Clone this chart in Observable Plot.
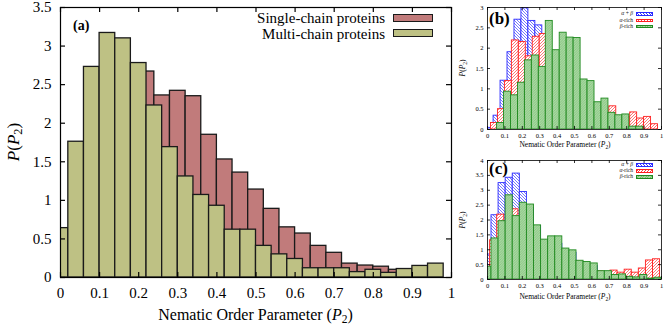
<!DOCTYPE html>
<html><head><meta charset="utf-8">
<script src="https://cdn.jsdelivr.net/npm/d3@7"></script>
<script src="https://cdn.jsdelivr.net/npm/@observablehq/plot@0.6"></script>
<style>
body{margin:0;background:#fff;}
#wrap{position:relative;width:664px;height:324px;overflow:hidden;font-family:"Liberation Serif",serif;color:#000;}
.abs{position:absolute;white-space:nowrap;line-height:1;}
.abs sub{font-size:0.72em;vertical-align:-0.25em;line-height:0;}
.sw{position:absolute;box-sizing:border-box;}
</style></head><body>
<svg width="0" height="0" style="position:absolute">
  <defs>
    <pattern id="hatchBlue" patternUnits="userSpaceOnUse" width="3" height="3">
      <rect width="3" height="3" fill="#fff"/>
      <path d="M-1,-1L4,4M-1,2L1,4M2,-1L4,1" stroke="#3c3cff" stroke-width="0.7"/>
    </pattern>
    <pattern id="hatchRed" patternUnits="userSpaceOnUse" width="3" height="3">
      <rect width="3" height="3" fill="#fff"/>
      <path d="M-1,4L4,-1M-1,1L1,-1M2,4L4,2" stroke="#ff3c3c" stroke-width="0.7"/>
    </pattern>
    <pattern id="hatchGreen" patternUnits="userSpaceOnUse" width="2.5" height="2.5">
      <rect width="2.5" height="2.5" fill="#a9d7a2"/>
      <path d="M-1,3.5L3.5,-1M-1,1L1,-1M1.5,3.5L3.5,1.5" stroke="#74bd6e" stroke-width="0.6"/>
    </pattern>
  </defs>
</svg>
<div id="wrap"></div>
<script>
// ---------- data ----------
const xTicks = [0, 0.1, 0.2, 0.3, 0.4, 0.5, 0.6, 0.7, 0.8, 0.9, 1];
const yTicksA = [0, 0.5, 1, 1.5, 2, 2.5, 3, 3.5];
const yTicksB = [0, 0.5, 1, 1.5, 2, 2.5, 3];
const yTicksC = [0, 0.5, 1, 1.5, 2, 2.5, 3, 3.5, 4];

// panel (a): bin width 0.04
const binWidthA = 0.04;
const singleChainStart = 0.0;
const singleChain = [0.40, 1.10, 1.60, 2.10, 2.45, 2.67, 2.36, 2.42, 2.35, 1.85, 1.53, 1.36, 1.14, 0.89, 0.65, 0.57, 0.41, 0.32, 0.18, 0.155, 0.14, 0.10, 0.08, 0.07];
const multiChainStart = -0.02;
const multiChain = [0.64, 1.76, 2.73, 3.17, 3.10, 2.78, 2.23, 1.69, 1.31, 1.07, 0.93, 0.62, 0.62, 0.41, 0.30, 0.24, 0.12, 0.12, 0.12, 0.07, 0.10, 0.06, 0.11, 0.15, 0.18];

// panel (b)
const binWidthB = 0.04;
const alphaBetaBStart = -0.005;
const alphaBetaB = [0.04, 0.34, 1.2, 1.9, 2.7, 2.98, 2.67, 2.56, 2.2, 1.9, 1.6, 1.4, 1.2, 0.9, 0.8, 0.6, 0.5, 0.4, 0.3, 0.2, 0.2, 0.15, 0.1, 0.1];
const alphaRichBStart = 0.02;
const alphaRichB = [0.16, 0.5, 1.19, 2.19, 2.15, 1.8, 2.28, 2.35, 1.8, 1.7, 1.6, 1.5, 1.1, 1.0, 0.65, 0.6, 0.4, 0.57, 0.3, 0.3, 0.42, 0.27, 0.31, 0.13];
const betaRichBStart = 0.055;
const betaRichB = [0.16, 0.93, 0.84, 1.15, 1.70, 1.82, 1.54, 2.67, 1.95, 2.38, 2.26, 2.25, 1.23, 1.19, 0.67, 0.76, 0.41, 0.35, 0.37, 0.07, 0.07];

// panel (c)
const binWidthC = 0.0407;
const alphaBetaCStart = -0.0177;
const alphaBetaC = [0.84, 2.16, 3.24, 3.42, 3.56, 2.94, 2.4, 1.8, 1.3, 1.3, 1.2, 0.95, 0.9, 0.55, 0.5, 0.45, 0.25, 0.25, 0.14, 0.15, 0.08, 0.06];
const alphaRichCStart = 0.015;
const alphaRichC = [1.32, 2.18, 1.9, 2.36, 2.0, 2.1, 1.7, 1.3, 1.2, 1.3, 1.0, 0.9, 0.6, 0.55, 0.5, 0.27, 0.25, 0.30, 0.23, 0.33, 0.23, 0.37, 0.64, 0.68];
const betaRichCStart = -0.0177;
const betaRichC = [0.43, 1.38, 1.96, 2.83, 2.13, 2.58, 2.52, 1.82, 1.34, 1.45, 1.45, 1.04, 0.98, 0.63, 0.59, 0.54, 0.28, 0.28, 0.15, 0.17, 0.09, 0.07, 0.15, 0.03, 0.06];

// ---------- helpers ----------
const FONT = '"Liberation Serif", serif';
const bins = (values, start, w) => values.map((v, i) => ({x1: start + i * w, x2: start + (i + 1) * w, v}));
const fmt = d => String(d);

function panel({width, height, ml, mr, mt, mb, yMax, yTicks, series, tick, fs, padX, padY, frameW}) {
  const iw = width - ml - mr, ih = height - mt - mb;
  return Plot.plot({
    width, height, marginLeft: ml, marginRight: mr, marginTop: mt, marginBottom: mb,
    style: {fontFamily: FONT, fontSize: fs + "px", background: "transparent", overflow: "visible"},
    x: {domain: [0, 1]},
    y: {domain: [0, yMax]},
    marks: [
      ...series.map(s => Plot.rect(s.data, {x1: "x1", x2: "x2", y1: 0, y2: "v", inset: 0,
        fill: s.fill, stroke: s.stroke, strokeWidth: s.sw, clip: true})),
      Plot.ruleX(xTicks, {x: d => d, insetTop: ih - tick, stroke: "#000", strokeWidth: frameW}),
      Plot.ruleX(xTicks, {x: d => d, insetBottom: ih - tick, stroke: "#000", strokeWidth: frameW}),
      Plot.ruleY(yTicks, {y: d => d, insetRight: iw - tick, stroke: "#000", strokeWidth: frameW}),
      Plot.ruleY(yTicks, {y: d => d, insetLeft: iw - tick, stroke: "#000", strokeWidth: frameW}),
      Plot.frame({stroke: "#000", strokeWidth: frameW}),
      Plot.axisX({ticks: xTicks, tickSize: 0, tickPadding: padX, tickFormat: fmt, label: null}),
      Plot.axisY({ticks: yTicks, tickSize: 0, tickPadding: padY, tickFormat: fmt, label: null})
    ]
  });
}

const wrap = document.getElementById("wrap");
function put(node, left, top) {
  const d = document.createElement("div");
  d.style.cssText = `position:absolute;left:${left}px;top:${top}px;`;
  d.appendChild(node);
  wrap.appendChild(d);
}
function text(html, css) {
  const d = document.createElement("div");
  d.className = "abs";
  d.innerHTML = html;
  d.style.cssText += css;
  wrap.appendChild(d);
}
function swatch(left, top, w, h, css) {
  const d = document.createElement("div");
  d.className = "sw";
  d.style.cssText += `left:${left}px;top:${top}px;width:${w}px;height:${h}px;` + css;
  wrap.appendChild(d);
}

// ---------- panel (a) ----------
put(panel({
  width: 460, height: 324, ml: 60, mr: 9, mt: 7, mb: 47, yMax: 3.5, yTicks: yTicksA,
  tick: 5, fs: 15, padX: 10, padY: 9, frameW: 1.2,
  series: [
    {data: bins(singleChain, singleChainStart, binWidthA), fill: "#c17b7b", stroke: "#1a1a1a", sw: 1.3},
    {data: bins(multiChain, multiChainStart, binWidthA), fill: "#bec184", stroke: "#1a1a1a", sw: 1.3}
  ]
}), 0, 0);

// ---------- panel (b) ----------
put(panel({
  width: 209, height: 160, ml: 32, mr: 3, mt: 7, mb: 31, yMax: 3, yTicks: yTicksB,
  tick: 3, fs: 6.5, padX: 4, padY: 4, frameW: 0.8,
  series: [
    {data: bins(alphaBetaB, alphaBetaBStart, binWidthB), fill: "url(#hatchBlue)", stroke: "#2a2aff", sw: 0.9},
    {data: bins(alphaRichB, alphaRichBStart, binWidthB), fill: "url(#hatchRed)", stroke: "#ff2020", sw: 0.9},
    {data: bins(betaRichB, betaRichBStart, binWidthB), fill: "url(#hatchGreen)", stroke: "#1f8a1f", sw: 0.9}
  ]
}), 455, 0);

// ---------- panel (c) ----------
put(panel({
  width: 209, height: 174, ml: 32, mr: 3, mt: 10, mb: 45, yMax: 4, yTicks: yTicksC,
  tick: 3, fs: 6.5, padX: 4, padY: 4, frameW: 0.8,
  series: [
    {data: bins(alphaBetaC, alphaBetaCStart, binWidthC), fill: "url(#hatchBlue)", stroke: "#2a2aff", sw: 0.9},
    {data: bins(alphaRichC, alphaRichCStart, binWidthC), fill: "url(#hatchRed)", stroke: "#ff2020", sw: 0.9},
    {data: bins(betaRichC, betaRichCStart, binWidthC), fill: "url(#hatchGreen)", stroke: "#1f8a1f", sw: 0.9}
  ]
}), 455, 150);

// ---------- texts: panel (a) ----------
text('Nematic Order Parameter (<i>P</i><sub>2</sub>)', 'left:255.5px;top:315px;font-size:16px;transform:translate(-50%,-50%);');
text('<i>P</i>(<i>P</i><sub>2</sub>)', 'left:13px;top:142px;font-size:17px;transform:translate(-50%,-50%) rotate(-90deg);');
text('<b>(a)</b>', 'left:73px;top:19px;font-size:14px;');
text('Single-chain proteins', 'right:279px;top:17.5px;font-size:15px;line-height:0.85;transform:translateY(-50%);');
text('Multi-chain proteins', 'right:279px;top:33.5px;font-size:15px;line-height:0.85;transform:translateY(-50%);');
swatch(393, 14, 40, 8, 'background:#c17b7b;border:1.3px solid #1a1a1a;');
swatch(393, 29, 40, 8, 'background:#bec184;border:1.3px solid #1a1a1a;');

// ---------- texts: panels (b),(c) ----------
const blueBg = 'background:repeating-linear-gradient(45deg,#fff 0 1.3px,#3c3cff 1.3px 2px);border:0.9px solid #2a2aff;';
const redBg = 'background:repeating-linear-gradient(-45deg,#fff 0 1.3px,#ff3c3c 1.3px 2px);border:0.9px solid #ff2020;';
const greenBg = 'background:repeating-linear-gradient(-45deg,#a9d7a2 0 1.2px,#74bd6e 1.2px 1.8px);border:0.9px solid #1f8a1f;';

function smallPanel(label, labelTop, xlabelTop, ylabelTop, legendTops) {
  text(`<b>${label}</b>`, `left:489px;top:${labelTop}px;font-size:17px;`);
  text('Nematic Order Parameter (<i>P</i><sub>2</sub>)', `left:565px;top:${xlabelTop}px;font-size:7.5px;transform:translate(-50%,-50%);`);
  text('<i>P</i>(<i>P</i><sub>2</sub>)', `left:463px;top:${ylabelTop}px;font-size:7.5px;transform:translate(-50%,-50%) rotate(-90deg);`);
  const names = ['<i>α</i> + <i>β</i>', '<i>α</i>-rich', '<i>β</i>-rich'];
  const bgs = [blueBg, redBg, greenBg];
  names.forEach((n, i) => {
    text(n, `right:31px;top:${legendTops[i]}px;font-size:5.6px;line-height:0.9;transform:translateY(-50%);color:#222;`);
    swatch(636, legendTops[i] - 1.8, 17, 3.6, bgs[i]);
  });
}
smallPanel('(b)', 10, 145, 68, [14, 20.5, 26.5]);
smallPanel('(c)', 160, 297, 220, [165, 171, 177]);
</script>
</body></html>
